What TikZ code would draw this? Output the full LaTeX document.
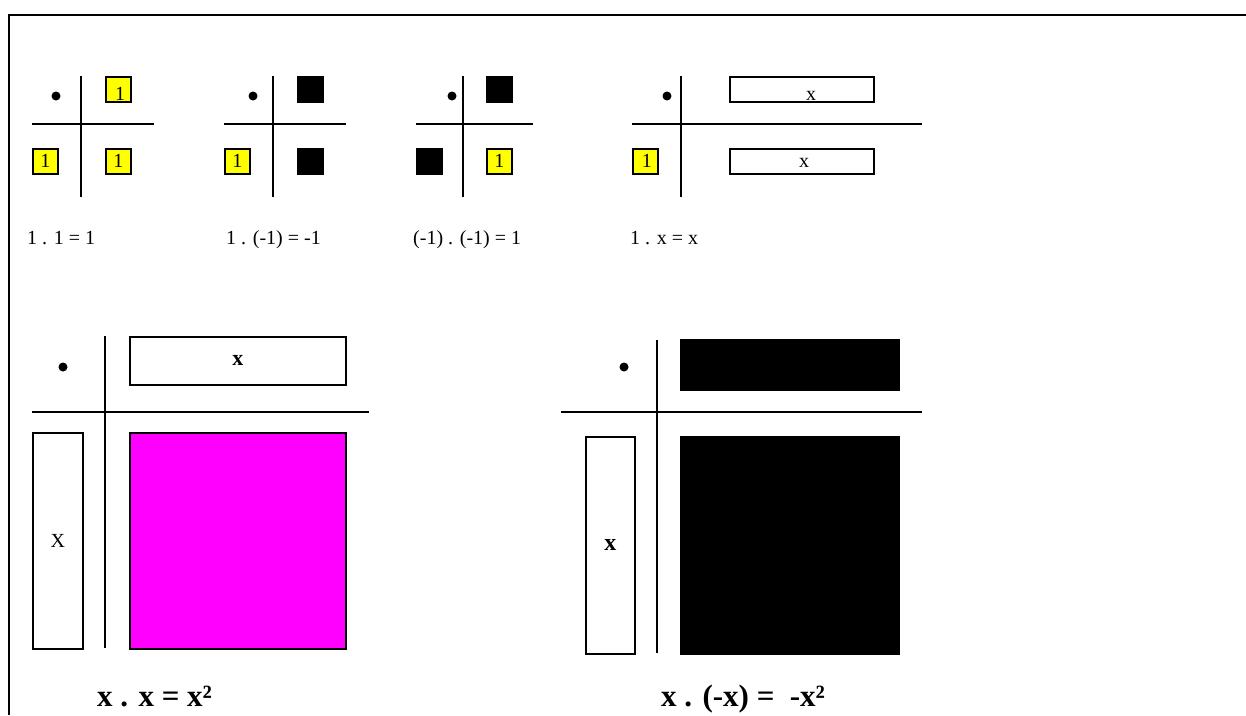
\documentclass[tikz,border=0pt]{standalone}
\usepackage{fontspec}
\setmainfont{Liberation Serif}
\definecolor{tileyellow}{RGB}{255,255,0}
\definecolor{tilemagenta}{RGB}{255,0,255}
\begin{document}
\begin{tikzpicture}[x=1pt,y=-1pt,
  axis/.style={line width=2pt},
  frame/.style={line width=2.2pt},
  tile/.style={draw, line width=1.6pt, anchor=north west, inner sep=0pt,
    font=\fontsize{20}{20}\selectfont},
  unit/.style={tile, fill=tileyellow, minimum width=25pt, minimum height=25pt},
  negunit/.style={tile, fill=black, minimum width=25pt, minimum height=25pt},
  xbar/.style={tile, fill=white, minimum width=144pt, minimum height=25pt},
  dotmark/.style={fill=black},
  small/.style={font=\fontsize{20}{24}\selectfont, inner sep=0pt},
  big/.style={font=\fontsize{31}{36}\selectfont\bfseries, inner sep=0pt}
]
\useasboundingbox (0,0) rectangle (1246,715);

% outer frame (top and left edges)
\draw[frame] (1246,15) -- (9,15) -- (9,715);

% ---- 1 . 1 = 1 ----
\fill[dotmark] (56,96) circle (4.5pt);
\draw[axis] (81,76) -- (81,197);
\draw[axis] (32,124) -- (154,124);
\node[unit] (a1) at (105,76) {};
\node[small, anchor=base] (a1t) at (120,100) {1};
\node[unit] (a2) at (32,148) {1};
\node[unit] (a3) at (105,148) {1};
\node[small, anchor=base west] (ca) at (27,244) {1 . 1 = 1};

% ---- 1 . (-1) = -1 ----
\fill[dotmark] (253,96) circle (4.5pt);
\draw[axis] (273,76) -- (273,197);
\draw[axis] (224,124) -- (346,124);
\node[negunit] (b1) at (297,76) {};
\node[unit] (b2) at (224,148) {1};
\node[negunit] (b3) at (297,148) {};
\node[small, anchor=base west] (cb) at (226,244) {1 . (-1) = -1};

% ---- (-1) . (-1) = 1 ----
\fill[dotmark] (452,96) circle (4.5pt);
\draw[axis] (463,76) -- (463,197);
\draw[axis] (416,124) -- (533,124);
\node[negunit] (c1) at (486,76) {};
\node[negunit] (c2) at (416,148) {};
\node[unit] (c3) at (486,148) {1};
\node[small, anchor=base west] (cc) at (413,244) {(-1) . (-1) = 1};

% ---- 1 . x = x ----
\fill[dotmark] (667,96) circle (4.5pt);
\draw[axis] (681,76) -- (681,197);
\draw[axis] (632,124) -- (922,124);
\node[xbar] (d1) at (729,76) {};
\node[small, anchor=base] (d1t) at (811,100) {x};
\node[unit] (d2) at (632,148) {\hspace*{3pt}1};
\node[xbar] (d3) at (729,148) {};
\node[small, anchor=base] (d3t) at (804,167) {x};
\node[small, anchor=base west] (cd) at (630,244) {1 . x = x};

% ---- x . x = x^2 ----
\fill[dotmark] (63,367) circle (4.5pt);
\draw[axis] (105,336) -- (105,648);
\draw[axis] (32,412) -- (369,412);
\node[tile, fill=white, minimum width=216pt, minimum height=48pt,
  font=\fontsize{22}{22}\selectfont\bfseries] (e1) at (129,336) {x};
\node[tile, fill=white, minimum width=50pt, minimum height=216pt] (e2) at (32,432) {X};
\node[tile, fill=tilemagenta, minimum width=216pt, minimum height=216pt] (e3) at (129,432) {};
\node[big, anchor=base west] (ce) at (97,706) {x . x = x²};

% ---- x . (-x) = -x^2 ----
\fill[dotmark] (624,367) circle (4.5pt);
\draw[axis] (657,340) -- (657,653);
\draw[axis] (561,412) -- (922,412);
\node[tile, fill=black, minimum width=218pt, minimum height=50pt] (f1) at (680,339) {};
\node[tile, fill=white, minimum width=49pt, minimum height=217pt,
  font=\fontsize{24}{24}\selectfont\bfseries] (f2) at (585,436) {x};
\node[tile, fill=black, minimum width=218pt, minimum height=217pt] (f3) at (680,436) {};
\node[big, anchor=base west] (cf) at (661,706) {x . (-x) =\ \ -x²};

\end{tikzpicture}
\end{document}
